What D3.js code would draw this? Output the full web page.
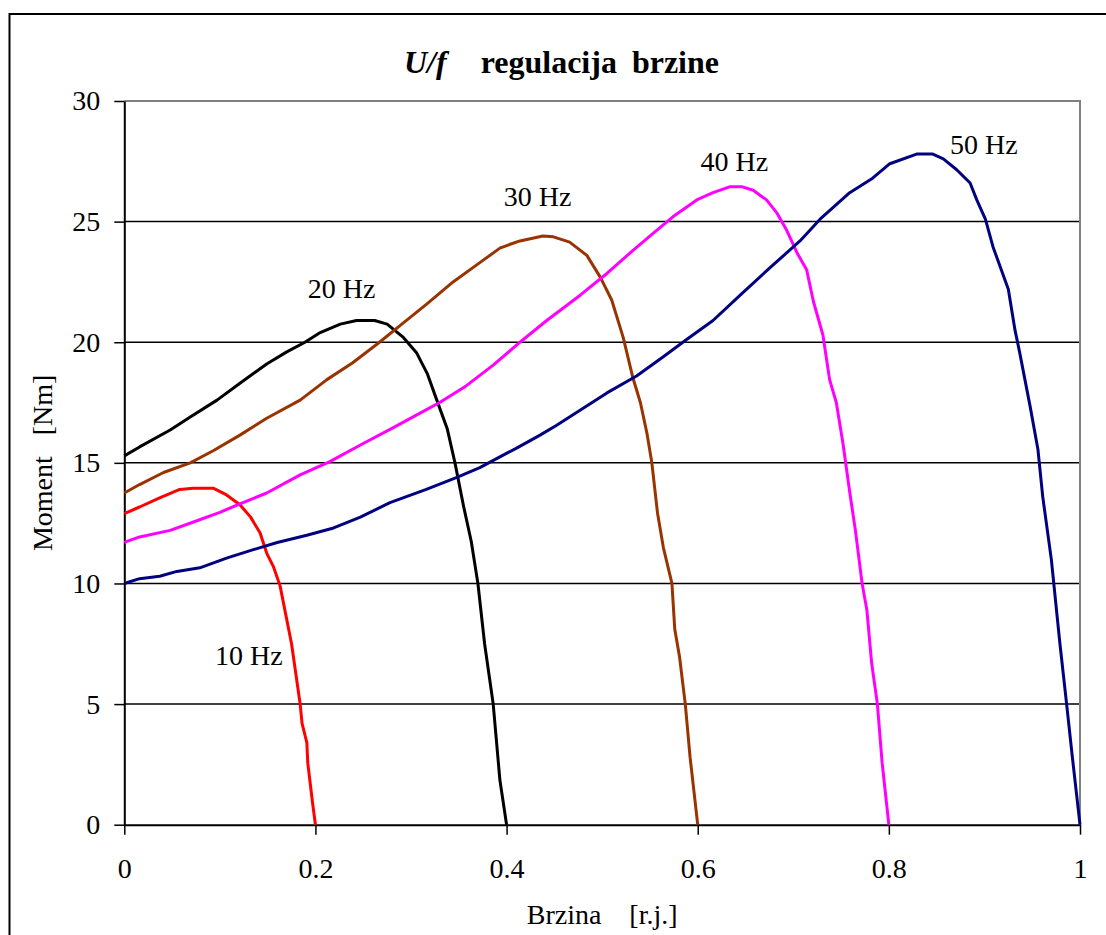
<!DOCTYPE html>
<html>
<head>
<meta charset="utf-8">
<script src="https://cdn.jsdelivr.net/npm/d3@7"></script>
<style>
  body { margin: 0; background: #fff; }
  text { font-family: "Liberation Serif", "Times New Roman", serif; fill: #000; }
</style>
</head>
<body>
<div id="chart"></div>
<script>
// U/f regulacija brzine - moment vs brzina for 5 frequencies

// values (x = brzina [r.j.], y = moment [Nm])
var hz10_x = [0, 0.016, 0.037, 0.058, 0.072, 0.093, 0.107, 0.121, 0.132, 0.142, 0.149, 0.156, 0.163, 0.170, 0.175, 0.184, 0.186, 0.191, 0.192, 0.197, 0.2];
var hz10_y = [12.9, 13.17, 13.55, 13.9, 13.95, 13.95, 13.67, 13.26, 12.76, 12.1, 11.26, 10.7, 9.9, 8.5, 7.5, 5.0, 4.2, 3.4, 2.55, 0.9, 0];

var hz20_x = [0, 0.016, 0.048, 0.069, 0.097, 0.121, 0.149, 0.170, 0.189, 0.205, 0.226, 0.243, 0.262, 0.275, 0.292, 0.306, 0.317, 0.327, 0.338, 0.346, 0.355, 0.363, 0.370, 0.377, 0.386, 0.393, 0.4];
var hz20_y = [15.29, 15.66, 16.36, 16.9, 17.6, 18.3, 19.1, 19.6, 20.0, 20.4, 20.75, 20.9, 20.9, 20.75, 20.2, 19.55, 18.7, 17.6, 16.4, 15.0, 13.2, 11.75, 10.0, 7.5, 5.0, 1.85, 0];

var hz30_x = [0, 0.016, 0.041, 0.069, 0.093, 0.121, 0.149, 0.184, 0.212, 0.239, 0.267, 0.292, 0.317, 0.344, 0.372, 0.393, 0.403, 0.414, 0.438, 0.449, 0.466, 0.484, 0.498, 0.510, 0.522, 0.532, 0.540, 0.547, 0.552, 0.558, 0.564, 0.573, 0.576, 0.581, 0.587, 0.592, 0.6];
var hz30_y = [13.75, 14.1, 14.6, 15.0, 15.5, 16.15, 16.85, 17.6, 18.45, 19.15, 20.0, 20.8, 21.6, 22.5, 23.3, 23.9, 24.05, 24.2, 24.4, 24.37, 24.15, 23.6, 22.7, 21.75, 20.2, 18.55, 17.5, 16.2, 15.0, 12.9, 11.5, 10.0, 8.1, 6.95, 5.0, 2.8, 0];

var hz40_x = [0, 0.016, 0.048, 0.076, 0.100, 0.121, 0.149, 0.184, 0.215, 0.250, 0.281, 0.309, 0.330, 0.358, 0.386, 0.414, 0.442, 0.477, 0.505, 0.532, 0.553, 0.574, 0.599, 0.616, 0.634, 0.646, 0.658, 0.672, 0.683, 0.693, 0.704, 0.714, 0.721, 0.731, 0.738, 0.745, 0.752, 0.759, 0.765, 0.772, 0.777, 0.782, 0.788, 0.793, 0.8];
var hz40_y = [11.7, 11.93, 12.2, 12.6, 12.95, 13.3, 13.75, 14.5, 15.05, 15.8, 16.45, 17.05, 17.5, 18.2, 19.05, 20.0, 20.9, 21.95, 22.85, 23.8, 24.5, 25.2, 25.9, 26.2, 26.45, 26.45, 26.3, 25.9, 25.35, 24.65, 23.7, 23.0, 21.7, 20.3, 18.45, 17.5, 15.8, 13.8, 12.2, 10.0, 8.9, 6.7, 5.0, 2.55, 0];

var hz50_x = [0, 0.016, 0.037, 0.055, 0.079, 0.107, 0.135, 0.160, 0.191, 0.219, 0.247, 0.278, 0.316, 0.348, 0.372, 0.393, 0.410, 0.435, 0.452, 0.505, 0.536, 0.564, 0.588, 0.616, 0.647, 0.676, 0.707, 0.728, 0.759, 0.783, 0.801, 0.829, 0.846, 0.857, 0.871, 0.885, 0.892, 0.901, 0.909, 0.925, 0.932, 0.937, 0.948, 0.956, 0.961, 0.970, 0.979, 0.986, 0.992, 1.0];
var hz50_y = [10.0, 10.2, 10.3, 10.5, 10.65, 11.05, 11.4, 11.7, 12.0, 12.3, 12.75, 13.35, 13.9, 14.4, 14.8, 15.25, 15.6, 16.15, 16.55, 17.9, 18.6, 19.4, 20.1, 20.9, 22.05, 23.1, 24.2, 25.1, 26.2, 26.8, 27.4, 27.8, 27.8, 27.6, 27.15, 26.6, 25.9, 25.1, 23.95, 22.2, 20.5, 19.55, 17.3, 15.55, 13.6, 11.0, 7.5, 5.0, 2.8, 0];

var seriesNames = ["10 Hz", "20 Hz", "30 Hz", "40 Hz", "50 Hz"];
var seriesColors = ["#ff0000", "#000000", "#993300", "#ff00ff", "#000080"];
// where each curve's label sits, in data units
var labelX = [0.095, 0.192, 0.397, 0.603, 0.864];
var labelY = [6.6, 21.85, 25.65, 27.1, 27.8];

var xTicks = [0, 0.2, 0.4, 0.6, 0.8, 1];
var yTicks = [0, 5, 10, 15, 20, 25, 30];

var W = 1106, H = 935;
var margin = {top: 101, right: 26, bottom: 110.3, left: 124.3},
    width = W - margin.left - margin.right,
    height = H - margin.top - margin.bottom;

var svg = d3.select("#chart").append("svg")
  .attr("width", W)
  .attr("height", H);

svg.append("rect").attr("width", W).attr("height", H).attr("fill", "#fff");

// outer chart frame (runs off the right/bottom edge like the original)
svg.append("rect")
  .attr("x", 9.5).attr("y", 14)
  .attr("width", W + 20).attr("height", H + 20)
  .attr("fill", "#fff")
  .attr("stroke", "#000")
  .attr("stroke-width", 2);

var g = svg.append("g")
  .attr("transform", "translate(" + margin.left + "," + margin.top + ")");

var x = d3.scaleLinear().domain([0, 1]).range([0, width]);
var y = d3.scaleLinear().domain([0, 30]).range([height, 0]);

// gridlines
g.selectAll(".grid")
  .data(yTicks.filter(function(d) { return d > 0 && d < 30; }))
  .enter().append("line")
  .attr("x1", 0).attr("x2", width)
  .attr("y1", function(d) { return y(d); })
  .attr("y2", function(d) { return y(d); })
  .attr("stroke", "#000")
  .attr("stroke-width", 1.5);

// plot border top + right (gray)
g.append("path")
  .attr("d", "M0," + y(30) + "H" + x(1) + "V" + y(0))
  .attr("fill", "none")
  .attr("stroke", "#808080")
  .attr("stroke-width", 2);

// axes
var yAxis = g.append("g")
  .call(d3.axisLeft(y).tickValues(yTicks).tickSize(10).tickPadding(14).tickSizeOuter(0));
var xAxis = g.append("g")
  .attr("transform", "translate(0," + height + ")")
  .call(d3.axisBottom(x).tickValues(xTicks).tickSize(10).tickPadding(23).tickSizeOuter(0)
    .tickFormat(function(d) { return d === 0 || d === 1 ? d : d3.format(".1f")(d); }));

[xAxis, yAxis].forEach(function(a) {
  a.select(".domain").attr("stroke", "#000").attr("stroke-width", 2);
  a.selectAll(".tick line").attr("stroke", "#000").attr("stroke-width", 1.5);
  a.selectAll("text")
    .style("font-family", "'Liberation Serif', 'Times New Roman', serif")
    .style("font-size", "28px")
    .attr("fill", "#000");
});

// curves (straight segments between the read points, like the source)
var allX = [hz10_x, hz20_x, hz30_x, hz40_x, hz50_x];
var allY = [hz10_y, hz20_y, hz30_y, hz40_y, hz50_y];

var line = d3.line()
  .x(function(d) { return x(d[0]); })
  .y(function(d) { return y(d[1]); });

for (var i = 0; i < allX.length; i++) {
  var pts = d3.zip(allX[i], allY[i]);
  g.append("path")
    .datum(pts)
    .attr("fill", "none")
    .attr("stroke", seriesColors[i])
    .attr("stroke-width", 3)
    .attr("stroke-linejoin", "round")
    .attr("d", line);

  g.append("text")
    .attr("x", x(labelX[i]))
    .attr("y", y(labelY[i]))
    .style("font-size", "28px")
    .text(seriesNames[i]);
}

// title
var title = svg.append("text")
  .attr("x", 561.5)
  .attr("y", 73)
  .attr("text-anchor", "middle")
  .style("font-size", "32px")
  .style("font-weight", "bold");
title.append("tspan").style("font-style", "italic").text("U/f");
title.append("tspan").attr("dx", 34).text("regulacija");
title.append("tspan").attr("dx", 15).text("brzine");

// axis titles
var xt = svg.append("text")
  .attr("x", margin.left + width / 2)
  .attr("y", 924)
  .attr("text-anchor", "middle")
  .style("font-size", "28px");
xt.append("tspan").text("Brzina");
xt.append("tspan").attr("dx", 28).text("[r.j.]");

var yt = svg.append("text")
  .attr("transform", "translate(52," + (margin.top + height / 2) + ") rotate(-90)")
  .attr("text-anchor", "middle")
  .style("font-size", "28px");
yt.append("tspan").text("Moment");
yt.append("tspan").attr("dx", 21).text("[Nm]");
</script>
</body>
</html>
